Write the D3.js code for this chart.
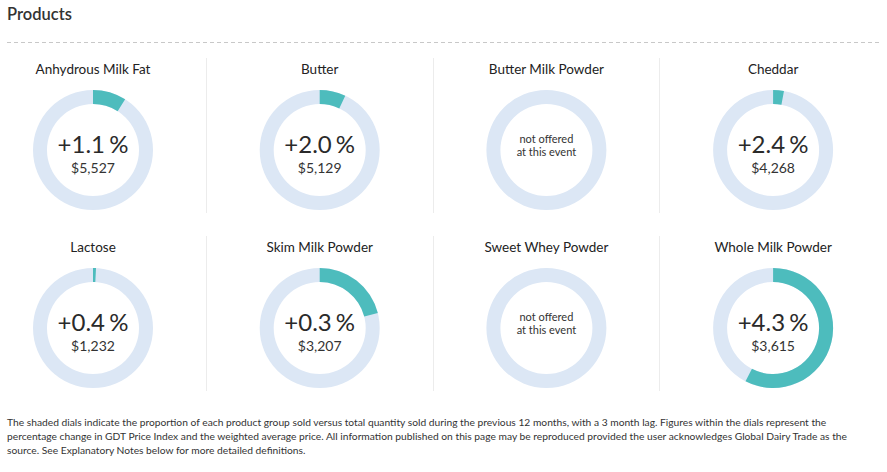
<!DOCTYPE html>
<html>
<head>
<meta charset="utf-8">
<script src="https://cdn.jsdelivr.net/npm/d3@7"></script>
<style>
  body { margin: 0; background: #fff; font-family: Lato, "Open Sans", sans-serif; }
  svg text { font-family: Lato, "Open Sans", sans-serif; }
</style>
</head>
<body>
<div id="chart"></div>
<script>
// product dials
var products = ["Anhydrous Milk Fat", "Butter", "Butter Milk Powder", "Cheddar",
                "Lactose", "Skim Milk Powder", "Sweet Whey Powder", "Whole Milk Powder"];
var changes  = ["+1.1 %", "+2.0 %", null, "+2.4 %", "+0.4 %", "+0.3 %", null, "+4.3 %"];
var prices   = ["$5,527", "$5,129", null, "$4,268", "$1,232", "$3,207", null, "$3,615"];
// share of total quantity sold (shaded part of the dial)
var shares   = [0.09, 0.07, 0, 0.029, 0.008, 0.21, 0, 0.576];
var offered  = [true, true, false, true, true, true, false, true];

var footnote = [
  "The shaded dials indicate the proportion of each product group sold versus total quantity sold during the previous 12 months, with a 3 month lag. Figures within the dials represent the",
  "percentage change in GDT Price Index and the weighted average price. All information published on this page may be reproduced provided the user acknowledges Global Dairy Trade as the",
  "source. See Explanatory Notes below for more detailed definitions."
];

var width = 887, height = 472;
var cols = 4, colW = 226.7, firstX = 93;
var rowY = [150, 328];
var outerR = 60, innerR = 46;

var svg = d3.select("#chart")
            .append("svg")
            .attr("width", width)
            .attr("height", height);

// header
svg.append("text")
    .attr("x", 7)
    .attr("y", 20)
    .attr("fill", "#333")
    .style("font-size", "16.5px")
    .style("font-weight", "600")
    .text("Products");

svg.append("line")
    .attr("x1", 7).attr("x2", 880)
    .attr("y1", 42.5).attr("y2", 42.5)
    .attr("stroke", "#c8c8c8")
    .attr("stroke-dasharray", "4,3");

// column separators
[0, 1].forEach(function(r) {
    for (var c = 0; c < cols - 1; c++) {
        var sx = Math.round(firstX + colW * c + colW / 2 - 0.5) + 0.5;
        svg.append("line")
            .attr("x1", sx).attr("x2", sx)
            .attr("y1", rowY[r] - 92).attr("y2", rowY[r] + 63)
            .attr("stroke", "#ececec");
    }
});

var angle = d3.scaleLinear().domain([0, 1]).range([0, 2 * Math.PI]);
var arc = d3.arc().innerRadius(innerR).outerRadius(outerR);

var cells = svg.selectAll("g.dial")
    .data(products)
    .enter().append("g")
        .attr("class", "dial")
        .attr("transform", function(d, i) {
            return "translate(" + (firstX + colW * (i % cols)) + "," + rowY[Math.floor(i / cols)] + ")";
        });

cells.append("text")
    .attr("y", -76)
    .attr("text-anchor", "middle")
    .attr("fill", "#222")
    .style("font-size", "13.5px")
    .text(function(d) { return d; });

// background ring
cells.append("path")
    .attr("fill", "#dce7f5")
    .attr("d", arc({startAngle: 0, endAngle: 2 * Math.PI}));

var sold = cells.filter(function(d, i) { return offered[i]; });

// shaded share
sold.append("path")
    .attr("fill", "#4dbcbd")
    .attr("d", function(d) {
        return arc({startAngle: 0, endAngle: angle(shares[products.indexOf(d)])});
    });

sold.append("text")
    .attr("y", 3)
    .attr("text-anchor", "middle")
    .attr("fill", "#2a2a2a")
    .style("font-size", "24px")
    .style("word-spacing", "-2px")
    .text(function(d) { return changes[products.indexOf(d)]; });

sold.append("text")
    .attr("y", 23)
    .attr("text-anchor", "middle")
    .attr("fill", "#333")
    .style("font-size", "14px")
    .text(function(d) { return prices[products.indexOf(d)]; });

var missing = cells.filter(function(d, i) { return !offered[i]; })
    .append("text")
    .attr("text-anchor", "middle")
    .attr("fill", "#333")
    .style("font-size", "11px");
missing.append("tspan").attr("x", 0).attr("y", -7).text("not offered");
missing.append("tspan").attr("x", 0).attr("y", 6).text("at this event");

// footnote
svg.append("text")
    .attr("fill", "#333")
    .style("font-size", "10.25px")
    .selectAll("tspan")
    .data(footnote)
    .enter().append("tspan")
        .attr("x", 7)
        .attr("y", function(d, i) { return 426 + i * 14; })
        .text(function(d) { return d; });
</script>
</body>
</html>
